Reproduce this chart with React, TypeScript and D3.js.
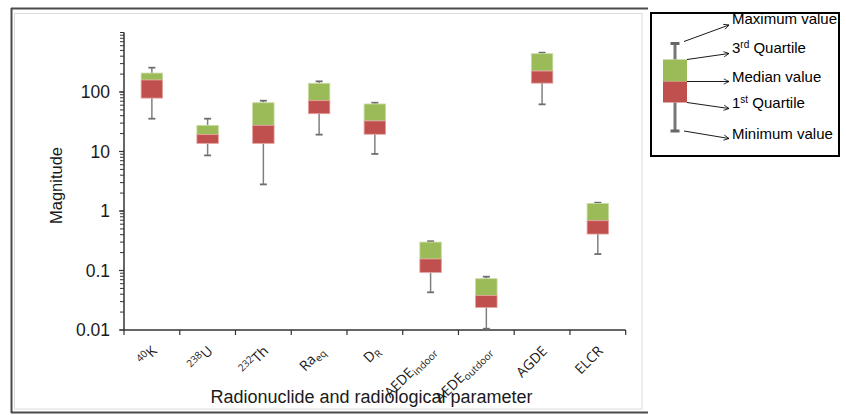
import React, { useEffect, useRef } from "react";
import * as d3 from "d3";

type Part = { t: string; s?: "sup" | "sub" };

const categories = ["40K", "238U", "232Th", "Raeq", "DR", "AEDEindoor", "AEDEoutdoor", "AGDE", "ELCR"];
const labelParts: Part[][] = [
  [{ t: "40", s: "sup" }, { t: "K" }],
  [{ t: "238", s: "sup" }, { t: "U" }],
  [{ t: "232", s: "sup" }, { t: "Th" }],
  [{ t: "Ra" }, { t: "eq", s: "sub" }],
  [{ t: "D" }, { t: "R", s: "sub" }],
  [{ t: "AEDE" }, { t: "indoor", s: "sub" }],
  [{ t: "AEDE" }, { t: "outdoor", s: "sub" }],
  [{ t: "AGDE" }],
  [{ t: "ELCR" }],
];
const minValues = [35.6, 8.6, 2.8, 19.2, 9.1, 0.043, 0.0105, 62, 0.189];
const q1Values = [79, 13.7, 13.7, 43.2, 19.5, 0.093, 0.024, 141, 0.41];
const medianValues = [159, 19.2, 27.5, 71.4, 32.6, 0.156, 0.0378, 225, 0.687];
const q3Values = [208, 27.5, 66, 140, 62.9, 0.3, 0.0729, 440, 1.34];
const maxValues = [256, 35.6, 71.4, 151, 66, 0.31, 0.0787, 458, 1.38];
const yTickValues = [0.01, 0.1, 1, 10, 100];
const yTickLabels = ["0.01", "0.1", "1", "10", "100"];
const legendLabels: Part[][] = [
  [{ t: "Maximum value" }],
  [{ t: "3" }, { t: "rd", s: "sup" }, { t: " Quartile" }],
  [{ t: "Median value" }],
  [{ t: "1" }, { t: "st", s: "sup" }, { t: " Quartile" }],
  [{ t: "Minimum value" }],
];

const W = 846;
const H = 415;
const left = 124;
const right = 625.7;
const top = 32.5;
const bottom = 330;
const GREEN = "#9BBB59";
const RED = "#C0504D";
const WHISK = "#808080";
const SANS = "'Liberation Sans', Arial, Helvetica, sans-serif";
const LABEL_FONT = "'Open Sans', 'Noto Sans', sans-serif";
const LABEL_SIZE = 14;
const SCRIPT_SIZE = 10;

function renderParts(parts: Part[], scriptSize: number, supShift: number, subShift: number) {
  const out: React.ReactNode[] = [];
  let cur = 0;
  parts.forEach((p, i) => {
    let target = 0;
    if (p.s === "sup") target = -supShift;
    if (p.s === "sub") target = subShift;
    const dy = target - cur;
    cur = target;
    out.push(
      <tspan key={i} dy={dy} fontSize={p.s ? scriptSize : undefined}>
        {p.t}
      </tspan>
    );
  });
  return out;
}

export default function App() {
  const labelRef = useRef<SVGGElement | null>(null);
  const y = d3.scaleLog().domain([0.01, 1000]).range([bottom, top]);
  const x = d3.scaleBand<string>().domain(categories).range([left, right]).padding(0);
  const bw = x.bandwidth();
  const boxW = bw * 0.385;
  const capW = 7;

  useEffect(() => {
    if (!labelRef.current) return;
    const g = d3.select(labelRef.current);
    g.selectAll("*").remove();
    categories.forEach((c, i) => {
      const px = (x(c) as number) + bw / 2 + 6;
      const py = bottom + 22;
      const t = g
        .append("text")
        .attr("x", 0)
        .attr("y", 0)
        .attr("text-anchor", "end")
        .attr("font-family", LABEL_FONT)
        .attr("font-size", LABEL_SIZE)
        .attr("fill", "#1a1a1a")
        .attr("transform", `translate(${px.toFixed(2)},${py}) rotate(-45)`);
      let cur = 0;
      labelParts[i].forEach((p) => {
        const target = p.s === "sup" ? -5 : p.s === "sub" ? 3 : 0;
        const ts = t.append("tspan").attr("dy", target - cur).text(p.t);
        if (p.s) ts.attr("font-size", SCRIPT_SIZE);
        cur = target;
      });
    });
  }, []);

  const minorTicks: number[] = [];
  for (let e = -2; e < 3; e++) {
    for (let m = 1; m <= 9; m++) {
      minorTicks.push(m * Math.pow(10, e));
    }
  }
  minorTicks.push(1000);

  const boundaries = categories.map((c) => x(c) as number).concat([right]);

  // legend geometry
  const lgX = 675;
  const lgBoxL = 663;
  const lgBoxR = 687;
  const lgMax = 43.5;
  const lgQ3 = 59.5;
  const lgMed = 81.5;
  const lgQ1 = 102.5;
  const lgMin = 131;
  const arrowEndX = 729;
  const legendTargets = [
    { x1: 684, y1: 41.5, x2: arrowEndX, y2: 25, ty: 24 },
    { x1: lgBoxR, y1: lgQ3, x2: arrowEndX, y2: 53.5, ty: 53 },
    { x1: lgBoxR, y1: lgMed, x2: arrowEndX, y2: lgMed, ty: 81.5 },
    { x1: lgBoxR, y1: lgQ1, x2: arrowEndX, y2: 108.5, ty: 108 },
    { x1: 684, y1: 131, x2: arrowEndX, y2: 138.5, ty: 138.5 },
  ];

  return (
    <svg width={W} height={H} style={{ position: "absolute", left: 0, top: 0, display: "block" }}>
      <defs>
        <marker id="arr" viewBox="0 0 8 8" refX="7" refY="4" markerWidth="7" markerHeight="7" orient="auto" markerUnits="userSpaceOnUse">
          <path d="M1,1 L7,4 L1,7" fill="none" stroke="#000" strokeWidth={0.9} />
        </marker>
      </defs>
      <rect x={0} y={0} width={W} height={H} fill="#fff" />
      {/* outer frame */}
      <line x1={11} y1={8.5} x2={648} y2={8.5} stroke="#4a4a4a" strokeWidth={2} />
      <line x1={11.5} y1={8} x2={11.5} y2={413} stroke="#4a4a4a" strokeWidth={2} />
      <line x1={11} y1={412.5} x2={648} y2={412.5} stroke="#4a4a4a" strokeWidth={2} />
      <rect x={14.5} y={13.5} width={627.5} height={395.5} fill="none" stroke="#dcdcdc" strokeWidth={1} />

      {/* y axis */}
      <line x1={left} y1={top} x2={left} y2={bottom} stroke="#333" strokeWidth={1.5} />
      {minorTicks.map((v, i) => (
        <line key={"mt" + i} x1={left - 4} x2={left} y1={y(v)} y2={y(v)} stroke="#333" strokeWidth={1} />
      ))}
      {yTickValues.map((v, i) => (
        <g key={"yt" + i}>
          <line x1={left - 5} x2={left} y1={y(v)} y2={y(v)} stroke="#333" strokeWidth={1.2} />
          <text x={110} y={y(v)} dy="0.35em" textAnchor="end" fontFamily={SANS} fontSize={17.5} fill="#1a1a1a">
            {yTickLabels[i]}
          </text>
        </g>
      ))}
      <g transform="translate(62,185.5) rotate(-90)">
        <text x={0} y={0} textAnchor="middle" fontFamily={SANS} fontSize={16.5} fill="#1a1a1a">
          Magnitude
        </text>
      </g>

      {/* x axis */}
      <line x1={left} y1={bottom} x2={right} y2={bottom} stroke="#333" strokeWidth={1.5} />
      {boundaries.map((bx, i) => (
        <line key={"xt" + i} x1={bx} x2={bx} y1={bottom} y2={bottom + 5} stroke="#333" strokeWidth={1.2} />
      ))}
      <g ref={labelRef} />
      <text x={371.5} y={403} textAnchor="middle" fontFamily={SANS} fontSize={18} fill="#1a1a1a">
        Radionuclide and radiological parameter
      </text>

      {/* boxes */}
      {categories.map((c, i) => {
        const cx = (x(c) as number) + bw / 2;
        const x0 = cx - boxW / 2;
        return (
          <g key={"bx" + i}>
            <line x1={cx} x2={cx} y1={y(maxValues[i])} y2={y(q3Values[i])} stroke={WHISK} strokeWidth={1.5} />
            <line x1={cx} x2={cx} y1={y(q1Values[i])} y2={y(minValues[i])} stroke={WHISK} strokeWidth={1.5} />
            <line x1={cx - capW / 2} x2={cx + capW / 2} y1={y(maxValues[i])} y2={y(maxValues[i])} stroke="#6e6e6e" strokeWidth={1.8} />
            <line x1={cx - capW / 2} x2={cx + capW / 2} y1={y(minValues[i])} y2={y(minValues[i])} stroke="#6e6e6e" strokeWidth={1.8} />
            <rect
              x={x0}
              y={y(q3Values[i])}
              width={boxW}
              height={y(medianValues[i]) - y(q3Values[i])}
              fill={GREEN}
              stroke="#c8dba6"
              strokeWidth={0.8}
            />
            <rect
              x={x0}
              y={y(medianValues[i])}
              width={boxW}
              height={y(q1Values[i]) - y(medianValues[i])}
              fill={RED}
              stroke="#e3a09e"
              strokeWidth={0.8}
            />
          </g>
        );
      })}

      {/* legend */}
      <rect x={651} y={13} width={188} height={143} fill="#fff" stroke="#000" strokeWidth={2} />
      <line x1={lgX} x2={lgX} y1={lgMax} y2={lgQ3} stroke="#777" strokeWidth={3} />
      <line x1={lgX} x2={lgX} y1={lgQ1} y2={lgMin} stroke="#777" strokeWidth={3} />
      <line x1={lgX - 4.5} x2={lgX + 4.5} y1={lgMax} y2={lgMax} stroke="#666" strokeWidth={3} />
      <line x1={lgX - 4.5} x2={lgX + 4.5} y1={lgMin} y2={lgMin} stroke="#666" strokeWidth={3} />
      <rect x={lgBoxL} y={lgQ3} width={lgBoxR - lgBoxL} height={lgMed - lgQ3} fill={GREEN} />
      <rect x={lgBoxL} y={lgMed} width={lgBoxR - lgBoxL} height={lgQ1 - lgMed} fill={RED} />
      {legendTargets.map((t, i) => (
        <g key={"lg" + i}>
          <line x1={t.x1} y1={t.y1} x2={t.x2} y2={t.y2} stroke="#000" strokeWidth={0.9} markerEnd="url(#arr)" />
          <text x={t.x2 + 3} y={t.ty} dy="0.35em" fontFamily={SANS} fontSize={15} fill="#000">
            {renderParts(legendLabels[i], 10, 5, 3)}
          </text>
        </g>
      ))}
    </svg>
  );
}
